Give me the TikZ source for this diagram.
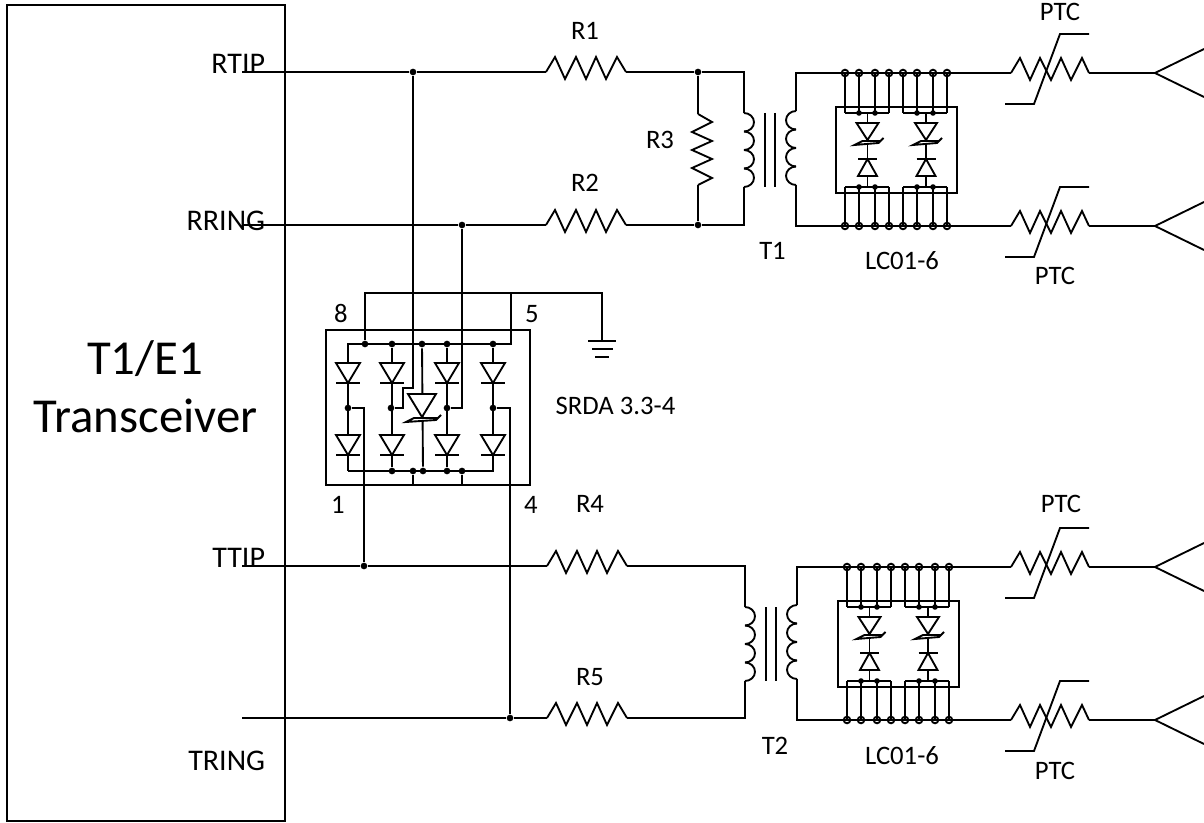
\documentclass[tikz,border=0pt]{standalone}
\usepackage{fontspec}
\setmainfont{Carlito}
\tikzset{
  x=0.75pt,y=-0.75pt,
  every path/.style={line width=1.4pt,line join=miter},
  lbl/.style={inner sep=0pt,anchor=base,font=\fontsize{20}{24}\selectfont},
  pinlbl/.style={inner sep=0pt,anchor=base east,font=\fontsize{22.5}{27}\selectfont},
  biglbl/.style={inner sep=0pt,anchor=base,font=\fontsize{36.6}{44}\selectfont},
  jdot/.style={circle,fill=black,draw=none,inner sep=0pt,minimum size=5pt},
  pics/resistor/.style={code={
    \draw (0,0)--(9,-15)--(19,7)--(30,-15)--(40,7)--(50,-15)--(60,7)--(71,-15)--(80,0);
    \coordinate (-in) at (0,0);
    \coordinate (-out) at (80,0);
  }},
  pics/vresistor/.style={code={
    \draw (0,0)--(14,8)--(-6,18)--(14,27)--(-6,36)--(14,45)--(-6,54)--(14,64)--(0,71);
    \coordinate (-in) at (0,0);
    \coordinate (-out) at (0,71);
  }},
  pics/ptc/.style={code={
    \draw (0,0)--(9,-15)--(19,7)--(29,-15)--(40,7)--(50,-15)--(60,7)--(71,-15)--(78,0);
    \draw (-6,31)--(23,31)--(49,-39)--(78,-39);
    \coordinate (-in) at (0,0);
    \coordinate (-out) at (78,0);
    \coordinate (-fork) at (144,0);
    \coordinate (-a) at (193,-24);
    \coordinate (-b) at (193,24);
    \draw (-out)--(-fork) (-a)--(-fork)--(-b);
  }},
  pics/diode/.style n args={2}{code={
    \draw[fill=white] (-#1,0)--(#1,0)--(0,#2)--cycle;
    \draw (-#1,#2)--(#1,#2);
  }},
  pics/tvs/.style n args={2}{code={
    \draw[fill=white] (-#1,0)--(#1,0)--(0,#2)--cycle;
    \draw[fill=white] (-#1-2,#2+5)--(-#1+6,#2+1)--(#1+2,#2+1)--(#1+5,#2-2)--(#1,#2+3)--cycle;
  }},
  pics/xfmr/.style n args={2}{code={
    \foreach \k in {0,1,2,3}
      \draw (0,#1*\k) arc[start angle=-90,end angle=90,x radius=10,y radius=#1/2];
    \foreach \k in {0,1,2,3}
      \draw (52,#1*\k-2) arc[start angle=-90,end angle=-270,x radius=10,y radius=#1/2];
    \draw (21,0)--(21,#2) (31,0)--(31,#2);
    \coordinate (-p1) at (0,0);
    \coordinate (-p2) at (0,#2);
    \coordinate (-s1) at (52,-2);
    \coordinate (-s2) at (52,#2-2);
  }},
  pics/lcblock/.style={code={
    \coordinate (-tl) at (0,0);
    \coordinate (-bl) at (0,153);
    \draw (-9,34) rectangle (112,120);
    \draw (0,40)--(44,40) (58,40)--(102,40);
    \draw (0,114)--(44,114) (58,114)--(102,114);
    \foreach \xx in {0,14,30,44,58,72,88,102}{
      \draw (\xx,0)--(\xx,40);
      \draw (\xx,114)--(\xx,153);
      \draw (\xx,0) circle[radius=3.3];
      \draw (\xx,153) circle[radius=3.3];
    }
    \foreach \xx in {14,30,72,88}{
      \fill (\xx,40) circle[radius=2.8];
      \fill (\xx,114) circle[radius=2.8];
    }
    \foreach \xx in {22.5,81}{
      \draw (\xx,40)--(\xx,114);
      \pic at (\xx,50) {tvs={11}{17}};
      \pic at (\xx,103) [yscale=-1] {diode={9.5}{17}};
    }
  }},
}
\begin{document}
\begin{tikzpicture}
\useasboundingbox (0,0) rectangle (1204,823);
\node[draw,inner sep=0pt,minimum width=208.5pt,minimum height=612pt] (xcvr) at (146,413) {};

% junctions and wire ends
\coordinate (rtipw) at (242,72);
\coordinate (rringw) at (242,225);
\coordinate (ttipw) at (242,566);
\coordinate (tringw) at (242,718);
\node[jdot] (jrtip) at (413,72) {};
\node[jdot] (jrring) at (462,225) {};
\node[jdot] (jttip) at (364,566) {};
\node[jdot] (jtring) at (510,718) {};
\node[jdot] (jr3a) at (698,72) {};
\node[jdot] (jr3b) at (698,225) {};

% resistors
\pic (r1) at (546,72) {resistor};
\pic (r2) at (546,225) {resistor};
\pic (r4) at (547,566) {resistor};
\pic (r5) at (547,718) {resistor};
\pic (r3) at (698,114) {vresistor};

% transformers
\pic (t1) at (744,113) {xfmr={18.5}{74}};
\pic (t2) at (745,607) {xfmr={18.5}{74}};

% LC blocks
\pic (lc1) at (845,73) {lcblock};
\pic (lc2) at (847,567) {lcblock};

% PTC
\pic (p1) at (1011,73) {ptc};
\pic (p2) at (1011,226) {ptc};
\pic (p3) at (1011,567) {ptc};
\pic (p4) at (1011,720) {ptc};

% main wires
\draw (rtipw)--(jrtip)--(r1-in);
\draw (rringw)--(jrring)--(r2-in);
\draw (ttipw)--(jttip)--(r4-in);
\draw (tringw)--(jtring)--(r5-in);
\draw (r1-out)--(jr3a)-|(t1-p1);
\draw (r2-out)--(jr3b)-|(t1-p2);
\draw (jr3a)--(r3-in) (r3-out)--(jr3b);
\draw (r4-out)-|(t2-p1);
\draw (r5-out)-|(t2-p2);
\draw (t1-s1)|-(lc1-tl)--(p1-in);
\draw (t1-s2)|-(lc1-bl)--(p2-in);
\draw (t2-s1)|-(lc2-tl)--(p3-in);
\draw (t2-s2)|-(lc2-bl)--(p4-in);

% SRDA block
\draw (326,330) rectangle (530,485);
\coordinate (rtl) at (348,344);
\coordinate (rtr) at (511,344);
\coordinate (rbl) at (348,471);
\coordinate (rbr) at (493,471);
\node[jdot] (a0) at (365,344) {};
\node[jdot] (a1) at (392,344) {};
\node[jdot] (a2) at (422,344) {};
\node[jdot] (a3) at (447,344) {};
\node[jdot] (a4) at (493,344) {};
\node[jdot] (b1) at (392,471) {};
\node[jdot] (b2) at (413,471) {};
\node[jdot] (b3) at (423,471) {};
\node[jdot] (b4) at (447,471) {};
\node[jdot] (b5) at (462,471) {};
\node[jdot] (m1) at (348,408) {};
\node[jdot] (m2) at (391,408) {};
\node[jdot] (m3) at (447,408) {};
\node[jdot] (m4) at (493,408) {};
\coordinate (gnd) at (602,341);
\coordinate (gtop) at (511,293);

\draw (rbl)|-(rtr)--(gtop);
\draw (rbl)--(rbr)--(a4);
\draw (a1)--(b1) (a3)--(b4);
\draw (a2)--(b3);
\draw (a0)--(365,293)--(gtop)-|(gnd);
\draw (588,341)--(616,341) (592,349)--(613,349) (595,357)--(609,357);
\draw (jrtip)--(413,388)--(403,388)--(403,408)--(m2);
\draw (jrring)|-(m3);
\draw (m1)-|(jttip);
\draw (m4)-|(jtring);
\draw (b2)--(413,485) (b5)--(462,485);

\foreach \xx/\yy in {348/363,392/363,447/363,493/363,348/435,392/435,447/435,493/435}
  \pic at (\xx,\yy) {diode={12}{20}};
\pic at (422,394) {tvs={14}{23}};

% labels
\node[biglbl] (lt1) at (145,375) {T1/E1};
\node[biglbl] (lt2) at (145.5,433) {Transceiver};
\node[pinlbl] (l1) at (266,74) {RTIP};
\node[pinlbl] (l2) at (266,231) {RRING};
\node[pinlbl] (l3) at (266,567) {TTIP};
\node[pinlbl] (l4) at (266,770) {TRING};
\node[lbl] (l5) at (585,40) {R1};
\node[lbl] (l6) at (585,192) {R2};
\node[lbl] (l7) at (660,149) {R3};
\node[lbl] (l8) at (590,513) {R4};
\node[lbl] (l9) at (590,685) {R5};
\node[lbl] (l10) at (772.5,260) {T1};
\node[lbl] (l11) at (775,754) {T2};
\node[lbl] (l12) at (902,270) {LC01-6};
\node[lbl] (l13) at (902,764) {LC01-6};
\node[lbl] (l14) at (615.5,415) {SRDA 3.3-4};
\node[lbl] (l15) at (341,323) {8};
\node[lbl] (l16) at (532,323) {5};
\node[lbl] (l17) at (338,514) {1};
\node[lbl] (l18) at (531,514) {4};
\node[lbl] (l19) at (1060,21) {PTC};
\node[lbl] (l20) at (1055,285) {PTC};
\node[lbl] (l21) at (1061,513) {PTC};
\node[lbl] (l22) at (1055,779) {PTC};
\end{tikzpicture}
\end{document}
